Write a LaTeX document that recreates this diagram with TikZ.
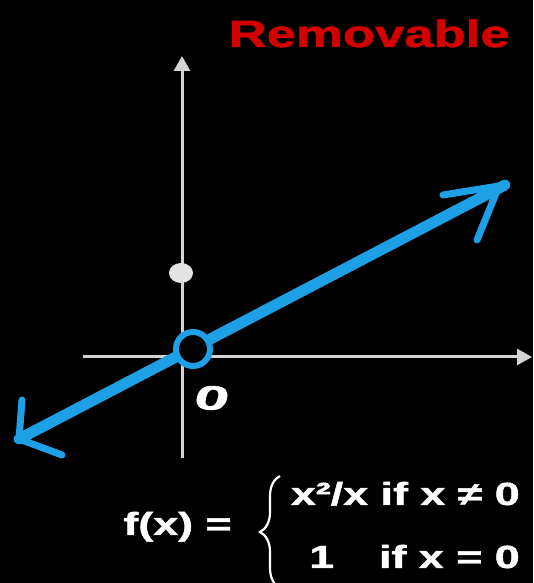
\documentclass[tikz,border=0pt]{standalone}
\usepackage{fontspec}
\setmainfont{Liberation Sans}
\newfontfamily\heavysans[FakeBold=1.2]{Liberation Sans Bold}
\usetikzlibrary{arrows.meta,decorations.pathreplacing}
\definecolor{penblue}{RGB}{30,160,230}
\definecolor{axisgray}{RGB}{212,212,212}
\definecolor{dotgray}{RGB}{228,228,228}
\definecolor{titlered}{RGB}{212,0,0}

\begin{document}
\begin{tikzpicture}[x=1pt,y=1pt,
  wide/.style={xscale=1.4,inner sep=0pt,text=white,font=\heavysans\fontsize{32}{38}\selectfont},
  axisline/.style={draw=axisgray,line width=3pt,-{Triangle[width=16pt,length=15pt]}},
  pen/.style={draw=penblue,line width=11pt,line cap=round},
  barb/.style={draw=penblue,line width=7pt,line cap=round}]
\useasboundingbox (0,0) rectangle (533,583);
% objects at depth 100:
\path[fill=black] (0,0) rectangle (533,583);
% objects at depth 75:
\coordinate (xlo) at (83,226);
\coordinate (xhi) at (532,226);
\coordinate (ylo) at (182,125);
\coordinate (yhi) at (182,527);
\path[axisline] (xlo) -- (xhi);
\path[axisline] (ylo) -- (yhi);
\path[fill=dotgray] (181,310) ellipse (12 and 10);
% objects at depth 50:
\coordinate (lefttip) at (19,144);
\coordinate (righttip) at (505,398);
\coordinate (leftup) at (22,183);
\coordinate (leftdown) at (62,128);
\coordinate (rightback) at (443,388);
\coordinate (rightfoot) at (497,392);
\coordinate (rightdown) at (477,343);
\path[pen] (lefttip) -- (righttip);
\path[barb] (lefttip) -- (leftup);
\path[barb] (lefttip) -- (leftdown);
\path[barb] (righttip) -- (rightback);
\path[barb] (rightfoot) -- (rightdown);
\path[draw=penblue,line width=6pt,fill=black] (193,234) circle (17);
\node[wide,xscale=1.3,rotate=-8,font=\heavysans\fontsize{34}{40}\selectfont] (zero) at (212,185) {0};
% formula:
\node[wide,xscale=0.99,text=titlered,font=\heavysans\fontsize{38}{44}\selectfont,anchor=base east] (title) at (510,536) {Removable};
\node[wide,anchor=base east] (fx) at (232,48) {f(x) =};
\node[wide,anchor=base east] (caseone) at (520,78) {x²/x if x ≠ 0};
\node[wide,anchor=base east] (casetwo) at (520,15) {1\quad if x = 0};
\draw[white,line width=2.2pt,decorate,decoration={brace,amplitude=20pt}] (280,-5) -- (280,107);
\end{tikzpicture}
\end{document}
